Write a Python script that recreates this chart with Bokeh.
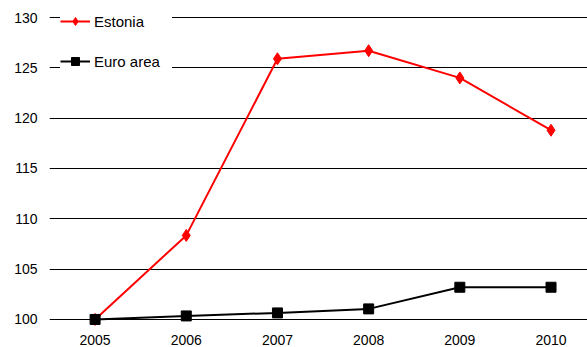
from bokeh.plotting import figure
from bokeh.models import Range1d, FixedTicker, Legend, LegendItem
from bokeh.embed import file_html
from bokeh.resources import INLINE

years = [2005, 2006, 2007, 2008, 2009, 2010]
estonia = [100.0, 108.35, 125.9, 126.7, 124.0, 118.8]
euro_area = [100.0, 100.35, 100.65, 101.05, 103.2, 103.2]
y_ticks = [100, 105, 110, 115, 120, 125, 130]

p = figure(width=587, height=347, output_backend="svg", toolbar_location=None,
           x_range=Range1d(2004.5, 2010.4), y_range=Range1d(99.3, 131.69),
           min_border_left=49, min_border_right=0, min_border_top=0, min_border_bottom=21)
p.outline_line_color = None
p.background_fill_color = "white"
p.border_fill_color = "white"

p.xgrid.visible = False
p.ygrid.grid_line_color = "#000000"
p.ygrid.grid_line_width = 1
p.ygrid.ticker = FixedTicker(ticks=y_ticks)

p.yaxis.ticker = FixedTicker(ticks=y_ticks)
p.xaxis.ticker = FixedTicker(ticks=years)
for ax in (p.xaxis[0], p.yaxis[0]):
    ax.axis_line_color = None
    ax.major_tick_line_color = None
    ax.minor_tick_line_color = None
    ax.major_tick_out = 0
    ax.major_tick_in = 0
    ax.major_label_text_font = "Liberation Sans"
    ax.major_label_text_font_size = "14px"
    ax.major_label_text_color = "#000000"
p.yaxis.major_label_standoff = 12
p.xaxis.major_label_standoff = 8

l1 = p.line(years, estonia, line_color="#ff0000", line_width=2)
s1 = p.scatter(years, estonia, marker="diamond", size=12, fill_color="#ff0000", line_color="#ff0000")
l2 = p.line(years, euro_area, line_color="#000000", line_width=2)
s2 = p.scatter(years, euro_area, marker="square", size=10, fill_color="#000000", line_color="#000000")

legend = Legend(items=[LegendItem(label="Estonia", renderers=[l1, s1]),
                       LegendItem(label="Euro area", renderers=[l2, s2])],
                location="top_left", padding=11, margin=11, spacing=20,
                glyph_width=30, glyph_height=20, label_standoff=4, label_width=78,
                label_text_font="Liberation Sans", label_text_font_size="15px",
                label_text_color="#000000", border_line_color=None,
                background_fill_color="white", background_fill_alpha=1.0)
p.add_layout(legend, "center")

open("out.html", "w").write(file_html(p, INLINE))
